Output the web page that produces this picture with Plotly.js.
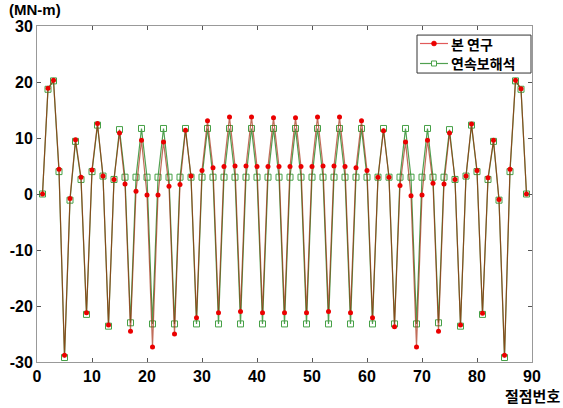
<!DOCTYPE html>
<html>
<head>
<meta charset="utf-8">
<script src="https://cdn.plot.ly/plotly-3.0.1.min.js"></script>
<style>html,body{margin:0;padding:0;background:#fff;}</style>
</head>
<body>
<div id="chart" style="width:563px;height:408px;"></div>
<script>
// node numbers
const nodes = [];
for (let i = 1; i <= 89; i++) nodes.push(i);

// 본 연구 (present study)
const presentStudy = [
  0, 18.9, 20.3, 4.4, -28.8, -0.8, 9.7, 3.0, -21.2, 4.3,
  12.6, 3.2, -23.4, 2.6, 10.9, 1.8, -24.5, 0.5, 9.6, -0.2,
  -27.3, -0.2, 9.3, 1.4, -25.0, 1.7, 11.4, 3.2, -22.1, 4.2,
  13.1, 4.7, -21.2, 4.9, 13.75, 5.0, -21.0, 5.0, 13.75, 4.9,
  -21.2, 4.9, 13.6, 4.9, -21.2, 4.9, 13.6, 4.9, -21.2, 4.9,
  13.75, 5.0, -21.0, 5.0, 13.75, 4.9, -21.2, 4.7, 13.1, 4.2,
  -22.1, 3.0, 11.3, 3.0, -23.7, 1.5, 9.3, -0.3, -27.3, -0.2,
  9.6, 1.9, -24.5, 1.8, 10.9, 2.6, -23.4, 3.2, 12.5, 4.2,
  -21.3, 2.9, 9.6, -1.0, -28.8, 4.4, 20.3, 18.8, 0
];

// 연속보해석 (continuous beam analysis)
const beamAnalysis = [
  0, 18.7, 20.2, 4.0, -29.2, -1.1, 9.4, 2.6, -21.5, 4.0,
  12.3, 3.2, -23.6, 2.6, 11.5, 3.0, -23.0, 3.0, 11.7, 3.0,
  -23.2, 3.0, 11.7, 3.0, -23.2, 3.0, 11.7, 3.0, -23.2, 3.0,
  11.7, 3.0, -23.2, 3.0, 11.7, 3.0, -23.2, 3.0, 11.7, 3.0,
  -23.2, 3.0, 11.7, 3.0, -23.2, 3.0, 11.7, 3.0, -23.2, 3.0,
  11.7, 3.0, -23.2, 3.0, 11.7, 3.0, -23.2, 3.0, 11.7, 3.0,
  -23.2, 3.0, 11.7, 3.0, -23.2, 3.0, 11.7, 3.0, -23.2, 3.0,
  11.7, 3.0, -23.0, 3.0, 11.5, 2.6, -23.6, 3.2, 12.3, 4.0,
  -21.5, 2.6, 9.4, -1.1, -29.2, 4.0, 20.2, 18.7, 0
];

const xTicks = [0, 10, 20, 30, 40, 50, 60, 70, 80, 90];
const yTicks = [-30, -20, -10, 0, 10, 20, 30];

const seriesNames = ['본 연구', '연속보해석'];

const redLine = 'rgba(160,30,0,0.65)';
const redMarker = 'rgb(235,0,0)';
const greenLine = 'rgb(80,160,80)';
const greenMarker = 'rgb(70,160,70)';

const traces = [
  {
    x: nodes, y: beamAnalysis, name: seriesNames[1], type: 'scatter', mode: 'lines+markers',
    line: {color: greenLine, width: 1.2},
    marker: {symbol: 'square-open', size: 6, color: greenMarker, line: {width: 1}}
  },
  {
    x: nodes, y: presentStudy, name: seriesNames[0], type: 'scatter', mode: 'lines+markers',
    line: {color: redLine, width: 1.2},
    marker: {symbol: 'circle', size: 5, color: redMarker}
  }
];

const tickFont = {family: 'Liberation Sans, Arial, sans-serif', size: 16, color: '#000', weight: 'bold'};
const krFont = {family: 'Noto Sans CJK KR, sans-serif', size: 14, color: '#000', weight: 'bold'};

// compact legend box (paper coordinates)
const lg = {x0: 0.7677, x1: 0.998, y0: 0.860, y1: 0.973, rows: [0.9479, 0.8884],
            lineX0: 0.7737, lineX1: 0.8303, mkX: 0.802, textX: 0.8343};

const shapes = [
  {type: 'rect', xref: 'paper', yref: 'paper', x0: lg.x0, x1: lg.x1, y0: lg.y0, y1: lg.y1,
   fillcolor: '#fff', line: {color: '#333', width: 1}, layer: 'above'},
  {type: 'line', xref: 'paper', yref: 'paper', x0: lg.lineX0, x1: lg.lineX1, y0: lg.rows[0], y1: lg.rows[0],
   line: {color: 'rgb(225,90,90)', width: 1.2}, layer: 'above'},
  {type: 'circle', xref: 'paper', yref: 'paper', xsizemode: 'pixel', ysizemode: 'pixel',
   xanchor: lg.mkX, yanchor: lg.rows[0], x0: -2.5, x1: 2.5, y0: -2.5, y1: 2.5,
   fillcolor: redMarker, line: {color: redMarker, width: 0.5}, layer: 'above'},
  {type: 'line', xref: 'paper', yref: 'paper', x0: lg.lineX0, x1: lg.lineX1, y0: lg.rows[1], y1: lg.rows[1],
   line: {color: greenLine, width: 1.2}, layer: 'above'},
  {type: 'rect', xref: 'paper', yref: 'paper', xsizemode: 'pixel', ysizemode: 'pixel',
   xanchor: lg.mkX, yanchor: lg.rows[1], x0: -2.5, x1: 2.5, y0: -2.5, y1: 2.5,
   fillcolor: '#fff', line: {color: greenMarker, width: 1}, layer: 'above'}
];

const layout = {
  width: 563, height: 408,
  margin: {l: 37, r: 31, t: 26, b: 46},
  paper_bgcolor: '#fff', plot_bgcolor: '#fff',
  showlegend: false,
  xaxis: {
    range: [0, 90], tickvals: xTicks, ticktext: xTicks.map(String),
    showgrid: false, zeroline: false,
    showline: true, mirror: 'ticks', linecolor: '#999', linewidth: 1,
    ticks: 'inside', ticklen: 4, tickcolor: '#555',
    tickfont: tickFont
  },
  yaxis: {
    range: [-30, 30], tickvals: yTicks, ticktext: yTicks.map(String),
    showgrid: false, zeroline: false,
    showline: true, mirror: 'ticks', linecolor: '#999', linewidth: 1,
    ticks: 'inside', ticklen: 4, tickcolor: '#555',
    tickfont: tickFont
  },
  shapes: shapes,
  annotations: [
    {text: seriesNames[0], xref: 'paper', yref: 'paper', x: lg.textX, y: lg.rows[0],
     xanchor: 'left', yanchor: 'middle', showarrow: false, font: krFont, borderpad: 0},
    {text: seriesNames[1], xref: 'paper', yref: 'paper', x: lg.textX, y: lg.rows[1],
     xanchor: 'left', yanchor: 'middle', showarrow: false, font: krFont, borderpad: 0},
    {text: '(MN-m)', xref: 'paper', yref: 'paper', x: -0.058, y: 1.05,
     xanchor: 'left', yanchor: 'middle', showarrow: false, borderpad: 0,
     font: {family: 'Liberation Sans, Arial, sans-serif', size: 15, color: '#000', weight: 'bold'}},
    {text: '절점번호', xref: 'paper', yref: 'paper', x: 1.058, y: -0.1,
     xanchor: 'right', yanchor: 'middle', showarrow: false, borderpad: 0,
     font: {family: 'Noto Sans CJK KR, sans-serif', size: 15, color: '#000', weight: 'bold'}}
  ]
};

Plotly.newPlot('chart', traces, layout, {displayModeBar: false, staticPlot: true});
</script>
</body>
</html>
